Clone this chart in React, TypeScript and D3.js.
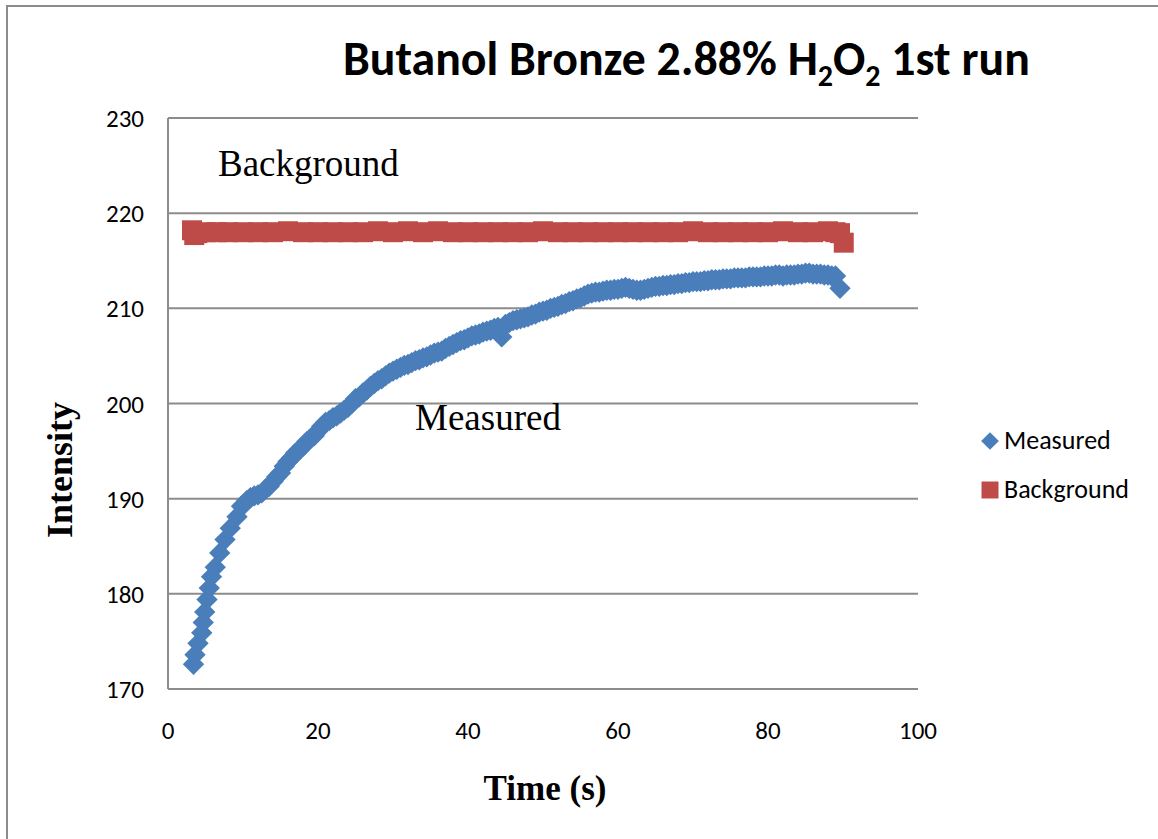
import React from "react";
import * as d3 from "d3";

// Measured intensity: time (s) and intensity
const measuredTime = [
  3.4, 3.6, 4.0, 4.5, 4.7, 4.9, 5.2, 5.5, 5.8, 6.3, 6.9, 7.6, 8.3, 9.2, 9.8, 10.0,
  10.5, 11.0, 11.5, 12.0, 12.5, 13.0, 13.5, 14.0, 14.5, 15.0, 15.5, 16.0, 16.5,
  17.0, 17.5, 18.0, 18.5, 19.0, 19.5, 20.0, 20.5, 21.0, 21.5, 22.0, 22.5, 23.0,
  23.5, 24.0, 24.5, 25.0, 25.5, 26.0, 26.5, 27.0, 27.5, 28.0, 28.5, 29.0, 29.5,
  30.0, 30.5, 31.0, 31.5, 32.0, 32.5, 33.0, 33.5, 34.0, 34.5, 35.0, 35.5, 36.0,
  36.5, 37.0, 37.5, 38.0, 38.5, 39.0, 39.5, 40.0, 40.5, 41.0, 41.5, 42.0, 42.5,
  43.0, 43.5, 44.0, 44.5, 45.0, 45.5, 46.0, 46.5, 47.0, 47.5, 48.0, 48.5, 49.0,
  49.5, 50.0, 50.5, 51.0, 51.5, 52.0, 52.5, 53.0, 53.5, 54.0, 54.5, 55.0, 55.5,
  56.0, 56.5, 57.0, 57.5, 58.0, 58.5, 59.0, 59.5, 60.0, 60.5, 61.0, 61.5, 62.0,
  62.5, 63.0, 63.5, 64.0, 64.5, 65.0, 65.5, 66.0, 66.5, 67.0, 67.5, 68.0, 68.5,
  69.0, 69.5, 70.0, 70.5, 71.0, 71.5, 72.0, 72.5, 73.0, 73.5, 74.0, 74.5, 75.0,
  75.5, 76.0, 76.5, 77.0, 77.5, 78.0, 78.5, 79.0, 79.5, 80.0, 80.5, 81.0, 81.5,
  82.0, 82.5, 83.0, 83.5, 84.0, 84.5, 85.0, 85.5, 86.0, 86.5, 87.0, 87.5, 88.0,
  88.5, 89.0, 89.6,
];
const measuredValue = [
  172.6, 173.6, 174.8, 175.9, 177.0, 178.1, 179.4, 180.6, 181.8, 182.8, 184.3,
  185.7, 186.9, 188.1, 189.2, 189.3,
  189.8, 190.1, 190.3, 190.4, 190.6, 191.0, 191.3, 191.8, 192.3, 192.7, 193.4,
  193.9, 194.3, 194.8, 195.1, 195.5, 196.0, 196.3, 196.6, 197.1, 197.6, 198.0,
  198.2, 198.5, 198.7, 199.0, 199.3, 199.6, 200.0, 200.5, 200.7, 201.1, 201.4,
  201.8, 202.1, 202.4, 202.6, 202.9, 203.2, 203.4, 203.6, 203.8, 204.0, 204.1,
  204.3, 204.5, 204.6, 204.8, 204.9, 205.1, 205.3, 205.4, 205.5, 205.8, 206.0,
  206.2, 206.4, 206.6, 206.7, 206.9, 207.1, 207.2, 207.3, 207.5, 207.6, 207.7,
  207.9, 208.0, 207.0, 208.3, 208.5, 208.7, 208.8, 208.9, 209.0, 209.1, 209.3,
  209.4, 209.6, 209.7, 209.8, 210.0, 210.1, 210.2, 210.4, 210.5, 210.7, 210.8,
  211.0, 211.1, 211.3, 211.5, 211.6, 211.7, 211.7, 211.8, 211.9, 211.9, 212.0,
  212.0, 212.1, 212.2, 212.1, 212.0, 211.9, 211.9, 212.0, 212.1, 212.2, 212.3,
  212.3, 212.4, 212.4, 212.5, 212.5, 212.6, 212.6, 212.7, 212.7, 212.8, 212.8,
  212.8, 212.9, 212.9, 213.0, 213.0, 213.0, 213.1, 213.1, 213.1, 213.2, 213.2,
  213.2, 213.2, 213.3, 213.3, 213.3, 213.3, 213.4, 213.4, 213.4, 213.5, 213.5,
  213.4, 213.5, 213.5, 213.5, 213.6, 213.6, 213.7, 213.7, 213.6, 213.6, 213.6,
  213.5, 213.5, 213.4, 213.4, 212.1,
];

// Background intensity: time (s) and intensity
const backgroundTime = [
  3.2, 3.5, 3.9, 5.0, 6.5, 8.0, 10.0, 12.0, 14.0, 16.0, 18.0, 20.0, 22.0, 24.0,
  26.0, 28.0, 30.0, 32.0, 34.0, 36.0, 38.0, 40.0, 42.0, 44.0, 46.0, 48.0, 50.0,
  52.0, 54.0, 56.0, 58.0, 60.0, 62.0, 64.0, 66.0, 68.0, 70.0, 72.0, 74.0, 76.0,
  78.0, 80.0, 82.0, 84.0, 86.0, 88.0, 89.0, 89.6, 90.1,
];
const backgroundValue = [
  218.2, 217.7, 217.9, 218.0, 218.0, 218.0, 218.0, 218.0, 218.0, 218.1, 218.0,
  218.0, 218.0, 218.0, 218.0, 218.1, 218.0, 218.1, 218.0, 218.1, 218.0, 218.0,
  218.0, 218.0, 218.0, 218.0, 218.1, 218.0, 218.0, 218.0, 218.0, 218.0, 218.0,
  218.0, 218.0, 218.0, 218.1, 218.0, 218.0, 218.0, 218.0, 218.0, 218.1, 218.0,
  218.0, 218.1, 218.0, 217.9, 216.9,
];

const xTicks = [0, 20, 40, 60, 80, 100];
const yTicks = [170, 180, 190, 200, 210, 220, 230];

const seriesNames = ["Measured", "Background"];
const colors = ["#4A7EBB", "#BE4B48"];

const W = 1158;
const H = 839;
const plot = { left: 168, right: 918, top: 118, bottom: 689 };

const calibri = "Carlito, 'Open Sans', 'Liberation Sans', sans-serif";
const times = "'Liberation Serif', 'Times New Roman', serif";

export default function App() {
  const x = d3.scaleLinear().domain([0, 100]).range([plot.left, plot.right]);
  const y = d3.scaleLinear().domain([170, 230]).range([plot.bottom, plot.top]);

  const diamond = d3.symbol().type(d3.symbolDiamond2).size(290)();
  const square = d3.symbol().type(d3.symbolSquare).size(400)();

  const measured = measuredTime.map((t, i) => [t, measuredValue[i]]);
  const background = backgroundTime.map((t, i) => [t, backgroundValue[i]]);

  return (
    <svg
      width={W}
      height={H}
      style={{ position: "absolute", left: 0, top: 0, background: "#fff" }}
    >
      {/* chart frame */}
      <rect x={7} y={6} width={W + 10} height={H + 10} fill="#fff" stroke="#8c8c8c" strokeWidth={2} />

      {/* title */}
      <text x={343} y={75} fontFamily={calibri} fontWeight="bold" fontSize={47.8} fill="#000">
        <tspan>Butanol Bronze 2.88% H</tspan>
        <tspan fontSize={30} dy={11}>2</tspan>
        <tspan dy={-11}>O</tspan>
        <tspan fontSize={30} dy={11}>2</tspan>
        <tspan dy={-11}> 1st run</tspan>
      </text>

      {/* gridlines */}
      {yTicks.map((v) => (
        <line
          key={"g" + v}
          x1={plot.left}
          x2={plot.right}
          y1={y(v)}
          y2={y(v)}
          stroke="#8c8c8c"
          strokeWidth={2}
        />
      ))}
      <line x1={plot.left} x2={plot.left} y1={plot.top} y2={plot.bottom} stroke="#8c8c8c" strokeWidth={2} />

      {/* y tick labels */}
      {yTicks.map((v) => (
        <text
          key={"yt" + v}
          x={plot.left - 24}
          y={y(v) + 9}
          textAnchor="end"
          fontFamily={calibri}
          fontSize={25}
          fill="#000"
        >
          {v}
        </text>
      ))}

      {/* x tick labels */}
      {xTicks.map((v) => (
        <text
          key={"xt" + v}
          x={x(v)}
          y={plot.bottom + 50}
          textAnchor="middle"
          fontFamily={calibri}
          fontSize={25}
          fill="#000"
        >
          {v}
        </text>
      ))}

      {/* series */}
      <g fill={colors[1]}>
        {background.map(([t, v], i) => (
          <path key={"b" + i} d={square} transform={`translate(${x(t)},${y(v)})`} />
        ))}
      </g>
      <g fill={colors[0]}>
        {measured.map(([t, v], i) => (
          <path key={"m" + i} d={diamond} transform={`translate(${x(t)},${y(v)})`} />
        ))}
      </g>

      {/* annotations */}
      <text x={218} y={176} fontFamily={times} fontSize={37} fill="#000">Background</text>
      <text x={415} y={430} fontFamily={times} fontSize={37} fill="#000">Measured</text>

      {/* axis titles */}
      <text
        transform={`translate(72,470) rotate(-90)`}
        textAnchor="middle"
        fontFamily={times}
        fontWeight="bold"
        fontSize={36}
        fill="#000"
      >
        Intensity
      </text>
      <text
        x={545}
        y={800}
        textAnchor="middle"
        fontFamily={times}
        fontWeight="bold"
        fontSize={35}
        fill="#000"
      >
        Time (s)
      </text>

      {/* legend */}
      {seriesNames.map((name, i) => (
        <g key={name} transform={`translate(990,${441 + i * 49})`}>
          <path
            d={i === 0 ? d3.symbol().type(d3.symbolDiamond2).size(200)() : d3.symbol().type(d3.symbolSquare).size(289)()}
            fill={colors[i]}
          />
          <text x={14} y={8} fontFamily={calibri} fontSize={26} fill="#000">{name}</text>
        </g>
      ))}
    </svg>
  );
}
